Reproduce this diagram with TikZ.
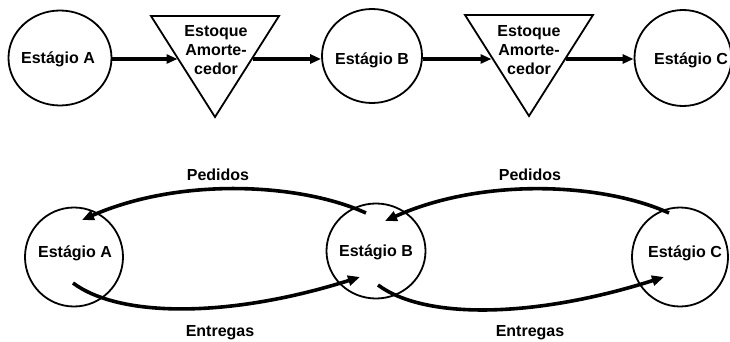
\documentclass[tikz,border=0pt]{standalone}
\usepackage{fontspec}
\setmainfont{Liberation Sans}
\usetikzlibrary{shapes.geometric,arrows.meta}
\begin{document}
\begin{tikzpicture}[x=1pt,y=-1pt,
  stage/.style={ellipse,draw,line width=1.8pt,inner sep=0pt},
  txt/.style={font=\fontsize{16}{19}\selectfont\bfseries,inner sep=0pt,align=center},
  tri/.style={draw,line width=1.8pt,line join=miter},
  flow/.style={line width=3.6pt,-{Triangle[length=11pt,width=9pt]}},
  loop/.style={line width=3.6pt,-{Triangle[length=12pt,width=10pt]}}]
\useasboundingbox (0,0) rectangle (730,342);
% ---- top row ----
\node[stage,minimum width=103pt,minimum height=95pt] (A1) at (60,58) {};
\node[txt] (A1t) at (58,59) {Estágio A};
\node[stage,minimum width=100pt,minimum height=94pt] (B1) at (372,56) {};
\node[txt] (B1t) at (372,60) {Estágio B};
\node[stage,minimum width=97pt,minimum height=96pt] (C1) at (683,58) {};
\node[txt] (C1t) at (691,60) {Estágio C};
% buffers
\coordinate (t1a) at (151,16); \coordinate (t1b) at (279,16); \coordinate (t1c) at (215,117);
\coordinate (t2a) at (465,15); \coordinate (t2b) at (593,15); \coordinate (t2c) at (529,116);
\draw[tri] (t1a) -- (t1b) -- (t1c) -- cycle;
\draw[tri] (t2a) -- (t2b) -- (t2c) -- cycle;
\node[txt] (T1) at (216,50) {Estoque\\Amorte-\\cedor};
\node[txt] (T2) at (529,50) {Estoque\\Amorte-\\cedor};
\coordinate (t1in) at (177.5,59); \coordinate (t1out) at (252.5,59);
\coordinate (t2in) at (491.5,59); \coordinate (t2out) at (565.5,59);
\draw[flow] (A1.east |- t1in) -- (t1in);
\draw[flow] (t1out) -- (B1.west |- t1out);
\draw[flow] (B1.east |- t2in) -- (t2in);
\draw[flow] (t2out) -- (C1.west |- t2out);
% ---- bottom row ----
\node[stage,minimum width=98pt,minimum height=99pt] (A2) at (74,257) {};
\node[txt] (A2t) at (75,253) {Estágio A};
\node[stage,minimum width=99pt,minimum height=95pt] (B2) at (376,251) {};
\node[txt] (B2t) at (376,252) {Estágio B};
\node[stage,minimum width=96pt,minimum height=99pt] (C2) at (680,257) {};
\node[txt] (C2t) at (685,253) {Estágio C};
% loop end points
\coordinate (pB) at (366,213); \coordinate (pA) at (82,220);
\coordinate (pC) at (669,213); \coordinate (pB2) at (385,221);
\coordinate (eA) at (73,283); \coordinate (eB) at (360,277);
\coordinate (eB2) at (378,285); \coordinate (eC) at (664,277);
\draw[loop] (pB) .. controls (300,183) and (180,177) .. (pA);
\draw[loop] (pC) .. controls (603,183) and (483,177) .. (pB2);
\draw[loop] (eA) .. controls (120,318) and (230,318) .. (eB);
\draw[loop] (eB2) .. controls (425,320) and (535,318) .. (eC);
\node[txt] (P1) at (218,175) {Pedidos};
\node[txt] (P2) at (530,175) {Pedidos};
\node[txt] (E1) at (220,333) {Entregas};
\node[txt] (E2) at (530,333) {Entregas};
\end{tikzpicture}
\end{document}
